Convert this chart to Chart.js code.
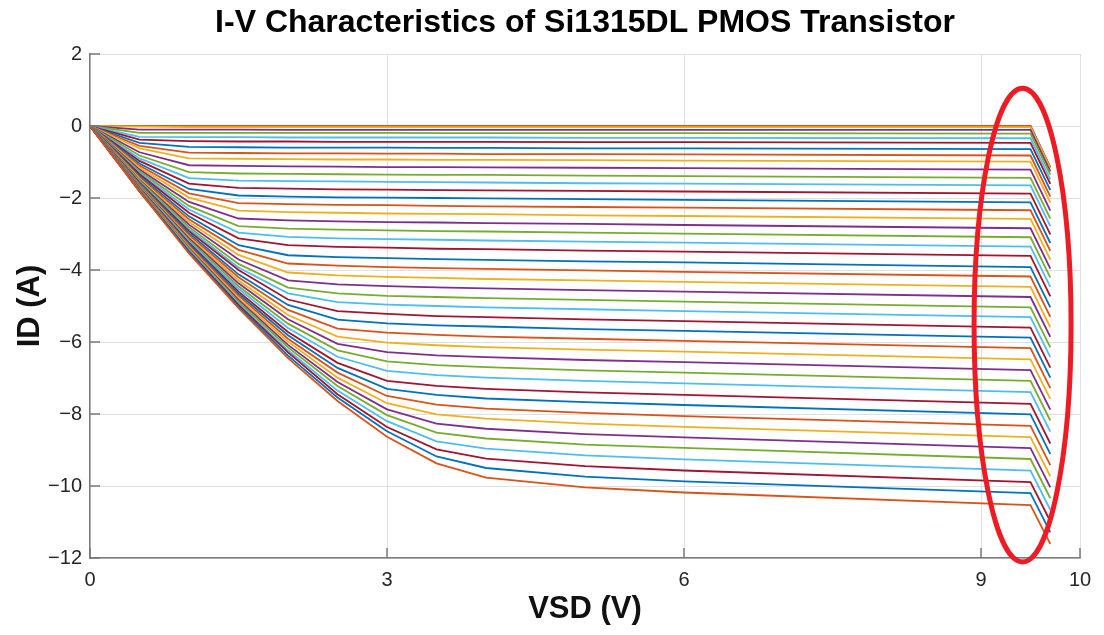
<!DOCTYPE html>
<html>
<head>
<meta charset="utf-8">
<title>I-V Characteristics of Si1315DL PMOS Transistor</title>
<script src="https://cdn.jsdelivr.net/npm/chart.js@4.4.1/dist/chart.umd.min.js"></script>
<style>
  html, body { margin: 0; padding: 0; background: #fff; }
  #wrap { width: 1104px; height: 635px; }
</style>
</head>
<body>
<div id="wrap"><canvas id="iv" width="1104" height="635"></canvas></div>
<script>
// VSD sample points (V)
const vsd = [0, 0.5, 1, 1.5, 2, 2.5, 3, 3.5, 4, 5, 6, 9.5, 9.7];

// ID (A), one row per gate voltage step
const idCurves = [
  [0, 0, 0, 0, 0, 0, 0, 0, 0, 0, 0, 0, -1.15],
  [0, 0, 0, 0, 0, 0, 0, 0, 0, 0, 0, 0, -1.15],
  [0, -0.02, -0.03, -0.03, -0.03, -0.03, -0.03, -0.03, -0.03, -0.03, -0.03, -0.03, -1.18],
  [0, -0.10, -0.10, -0.10, -0.11, -0.11, -0.11, -0.11, -0.11, -0.11, -0.11, -0.11, -1.26],
  [0, -0.19, -0.19, -0.19, -0.19, -0.19, -0.19, -0.20, -0.20, -0.20, -0.20, -0.21, -1.35],
  [0, -0.30, -0.31, -0.31, -0.32, -0.32, -0.32, -0.32, -0.32, -0.33, -0.33, -0.34, -1.48],
  [0, -0.38, -0.42, -0.43, -0.43, -0.44, -0.44, -0.44, -0.44, -0.45, -0.45, -0.47, -1.61],
  [0, -0.47, -0.58, -0.59, -0.60, -0.60, -0.60, -0.61, -0.61, -0.62, -0.62, -0.64, -1.78],
  [0, -0.55, -0.74, -0.75, -0.76, -0.76, -0.77, -0.77, -0.78, -0.78, -0.79, -0.82, -1.96],
  [0, -0.62, -0.90, -0.91, -0.92, -0.93, -0.93, -0.94, -0.94, -0.95, -0.96, -0.99, -2.13],
  [0, -0.73, -1.09, -1.11, -1.12, -1.13, -1.14, -1.14, -1.15, -1.16, -1.17, -1.21, -2.35],
  [0, -0.82, -1.28, -1.32, -1.33, -1.34, -1.35, -1.36, -1.36, -1.38, -1.39, -1.44, -2.57],
  [0, -0.90, -1.45, -1.52, -1.53, -1.54, -1.55, -1.56, -1.57, -1.59, -1.60, -1.65, -2.78],
  [0, -0.97, -1.60, -1.72, -1.74, -1.76, -1.77, -1.78, -1.79, -1.80, -1.82, -1.88, -3.01],
  [0, -1.04, -1.75, -1.93, -1.96, -1.98, -1.99, -2.00, -2.01, -2.03, -2.05, -2.12, -3.25],
  [0, -1.10, -1.87, -2.14, -2.17, -2.19, -2.20, -2.22, -2.23, -2.25, -2.27, -2.34, -3.47],
  [0, -1.15, -1.99, -2.35, -2.39, -2.41, -2.43, -2.44, -2.45, -2.48, -2.50, -2.58, -3.71],
  [0, -1.21, -2.11, -2.57, -2.62, -2.65, -2.67, -2.68, -2.70, -2.72, -2.75, -2.84, -3.96],
  [0, -1.26, -2.22, -2.78, -2.85, -2.88, -2.90, -2.92, -2.93, -2.96, -2.99, -3.09, -4.21],
  [0, -1.30, -2.32, -2.96, -3.08, -3.12, -3.14, -3.16, -3.18, -3.21, -3.24, -3.35, -4.47],
  [0, -1.34, -2.41, -3.12, -3.31, -3.36, -3.38, -3.41, -3.42, -3.46, -3.49, -3.61, -4.73],
  [0, -1.39, -2.51, -3.31, -3.59, -3.64, -3.67, -3.70, -3.72, -3.76, -3.79, -3.92, -5.04],
  [0, -1.43, -2.59, -3.44, -3.82, -3.88, -3.92, -3.95, -3.97, -4.01, -4.05, -4.18, -5.30],
  [0, -1.46, -2.67, -3.58, -4.07, -4.15, -4.19, -4.22, -4.25, -4.29, -4.33, -4.47, -5.59],
  [0, -1.50, -2.74, -3.71, -4.29, -4.40, -4.45, -4.48, -4.51, -4.56, -4.60, -4.75, -5.86],
  [0, -1.52, -2.81, -3.83, -4.49, -4.65, -4.72, -4.75, -4.78, -4.83, -4.88, -5.04, -6.15],
  [0, -1.55, -2.87, -3.93, -4.65, -4.89, -4.96, -5.00, -5.04, -5.09, -5.14, -5.31, -6.42],
  [0, -1.57, -2.92, -4.00, -4.82, -5.14, -5.22, -5.28, -5.31, -5.37, -5.42, -5.60, -6.71],
  [0, -1.59, -2.98, -4.12, -4.97, -5.38, -5.48, -5.54, -5.57, -5.64, -5.69, -5.88, -6.99],
  [0, -1.62, -3.03, -4.20, -5.11, -5.63, -5.74, -5.80, -5.85, -5.91, -5.97, -6.17, -7.28],
  [0, -1.65, -3.08, -4.29, -5.25, -5.85, -6.02, -6.09, -6.14, -6.21, -6.27, -6.48, -7.58],
  [0, -1.66, -3.12, -4.37, -5.37, -6.05, -6.28, -6.37, -6.42, -6.50, -6.56, -6.78, -7.88],
  [0, -1.68, -3.17, -4.45, -5.49, -6.23, -6.54, -6.64, -6.70, -6.79, -6.85, -7.08, -8.18],
  [0, -1.70, -3.21, -4.52, -5.61, -6.41, -6.80, -6.92, -6.99, -7.08, -7.15, -7.39, -8.49],
  [0, -1.72, -3.25, -4.60, -5.72, -6.58, -7.08, -7.22, -7.30, -7.40, -7.47, -7.72, -8.82],
  [0, -1.73, -3.28, -4.66, -5.81, -6.72, -7.30, -7.47, -7.57, -7.67, -7.75, -8.01, -9.11],
  [0, -1.74, -3.32, -4.71, -5.91, -6.85, -7.50, -7.74, -7.85, -7.97, -8.06, -8.33, -9.42],
  [0, -1.77, -3.36, -4.78, -5.99, -6.99, -7.70, -8.01, -8.13, -8.27, -8.36, -8.64, -9.73],
  [0, -1.78, -3.39, -4.83, -6.08, -7.11, -7.87, -8.27, -8.41, -8.56, -8.65, -8.95, -10.04],
  [0, -1.79, -3.42, -4.88, -6.15, -7.22, -8.03, -8.52, -8.68, -8.85, -8.94, -9.25, -10.34],
  [0, -1.80, -3.45, -4.93, -6.23, -7.35, -8.20, -8.76, -8.96, -9.15, -9.26, -9.57, -10.66],
  [0, -1.81, -3.48, -4.97, -6.29, -7.45, -8.36, -8.98, -9.24, -9.45, -9.57, -9.89, -10.98],
  [0, -1.82, -3.51, -5.02, -6.38, -7.54, -8.48, -9.18, -9.50, -9.74, -9.87, -10.20, -11.29],
  [0, -1.82, -3.54, -5.06, -6.45, -7.64, -8.63, -9.37, -9.77, -10.04, -10.18, -10.53, -11.61]
];

const xTicks = [0, 3, 6, 9, 10];
const yTicks = [-12, -10, -8, -6, -4, -2, 0, 2];

// MATLAB default colour order
const lineColors = ['#0072BD', '#D95319', '#EDB120', '#7E2F8E', '#77AC30', '#4DBEEE', '#A2142F'];

// red hand-drawn mark around the breakdown region (data units)
const markCenter = [9.42, -5.53];
const markRadius = [0.49, 6.58];

const chartTitle = 'I-V Characteristics of Si1315DL PMOS Transistor';
const fontFamily = '"Liberation Sans", Arial, Helvetica, sans-serif';

// MATLAB prints a real minus sign on tick labels
const fmtTick = v => (v < 0 ? '\u2212' + Math.abs(v) : String(v));

// inward ticks, red ellipse and title
const axisDecor = {
    id: 'axisDecor',
    afterDraw(chart) {
        const { ctx, chartArea: a, scales: { x, y } } = chart;
        ctx.save();

        ctx.strokeStyle = '#7a7a7a';
        ctx.lineWidth = 1.5;
        ctx.beginPath();
        xTicks.forEach(v => {
            const px = x.getPixelForValue(v);
            ctx.moveTo(px, a.bottom);
            ctx.lineTo(px, a.bottom - 10);
        });
        yTicks.forEach(v => {
            const py = y.getPixelForValue(v);
            ctx.moveTo(a.left, py);
            ctx.lineTo(a.left + 10, py);
        });
        ctx.stroke();

        const cx = x.getPixelForValue(markCenter[0]);
        const cy = y.getPixelForValue(markCenter[1]);
        const rx = Math.abs(x.getPixelForValue(markCenter[0] + markRadius[0]) - cx);
        const ry = Math.abs(y.getPixelForValue(markCenter[1] + markRadius[1]) - cy);
        ctx.strokeStyle = '#ed1c24';
        ctx.lineWidth = 5;
        ctx.beginPath();
        ctx.ellipse(cx, cy, rx, ry, 0, 0, Math.PI * 2);
        ctx.stroke();

        ctx.fillStyle = '#000';
        ctx.font = 'bold 32px ' + fontFamily;
        ctx.textAlign = 'center';
        ctx.textBaseline = 'middle';
        ctx.fillText(chartTitle, (a.left + a.right) / 2, 23);
        ctx.restore();
    }
};

const datasets = idCurves.map((row, i) => ({
    data: row.map((v, k) => ({ x: vsd[k], y: v })),
    borderColor: lineColors[i % lineColors.length],
    borderWidth: 1.8,
    pointRadius: 0,
    tension: 0,
    fill: false,
    order: -i
}));

new Chart(document.getElementById('iv'), {
    type: 'line',
    data: { datasets },
    options: {
        responsive: false,
        animation: false,
        layout: { padding: { top: 54, right: 24, left: 0, bottom: 0 } },
        plugins: {
            legend: { display: false },
            tooltip: { enabled: false }
        },
        scales: {
            x: {
                type: 'linear',
                min: 0,
                max: 10,
                afterBuildTicks: s => { s.ticks = xTicks.map(v => ({ value: v })); },
                afterFit: s => { s.height = 77; },
                ticks: { font: { size: 20, family: fontFamily }, color: '#262626', padding: 10, maxRotation: 0, autoSkip: false, callback: fmtTick },
                grid: { color: '#e0e0e0', lineWidth: 1, drawTicks: false },
                border: { display: true, color: '#7a7a7a', width: 1.5 },
                title: { display: true, text: 'VSD (V)', color: '#111', font: { size: 31, weight: 'bold', family: fontFamily }, padding: { top: 0, bottom: 7 } }
            },
            y: {
                type: 'linear',
                min: -12,
                max: 2,
                afterBuildTicks: s => { s.ticks = yTicks.map(v => ({ value: v })); },
                afterFit: s => { s.width = 90; },
                ticks: { font: { size: 20, family: fontFamily }, color: '#262626', padding: 8, autoSkip: false, callback: fmtTick },
                grid: { color: '#e0e0e0', lineWidth: 1, drawTicks: false },
                border: { display: true, color: '#7a7a7a', width: 1.5 },
                title: { display: true, text: 'ID (A)', color: '#111', font: { size: 31, weight: 'bold', family: fontFamily }, padding: { top: 12, bottom: 0 } }
            }
        }
    },
    plugins: [axisDecor]
});
</script>
</body>
</html>
